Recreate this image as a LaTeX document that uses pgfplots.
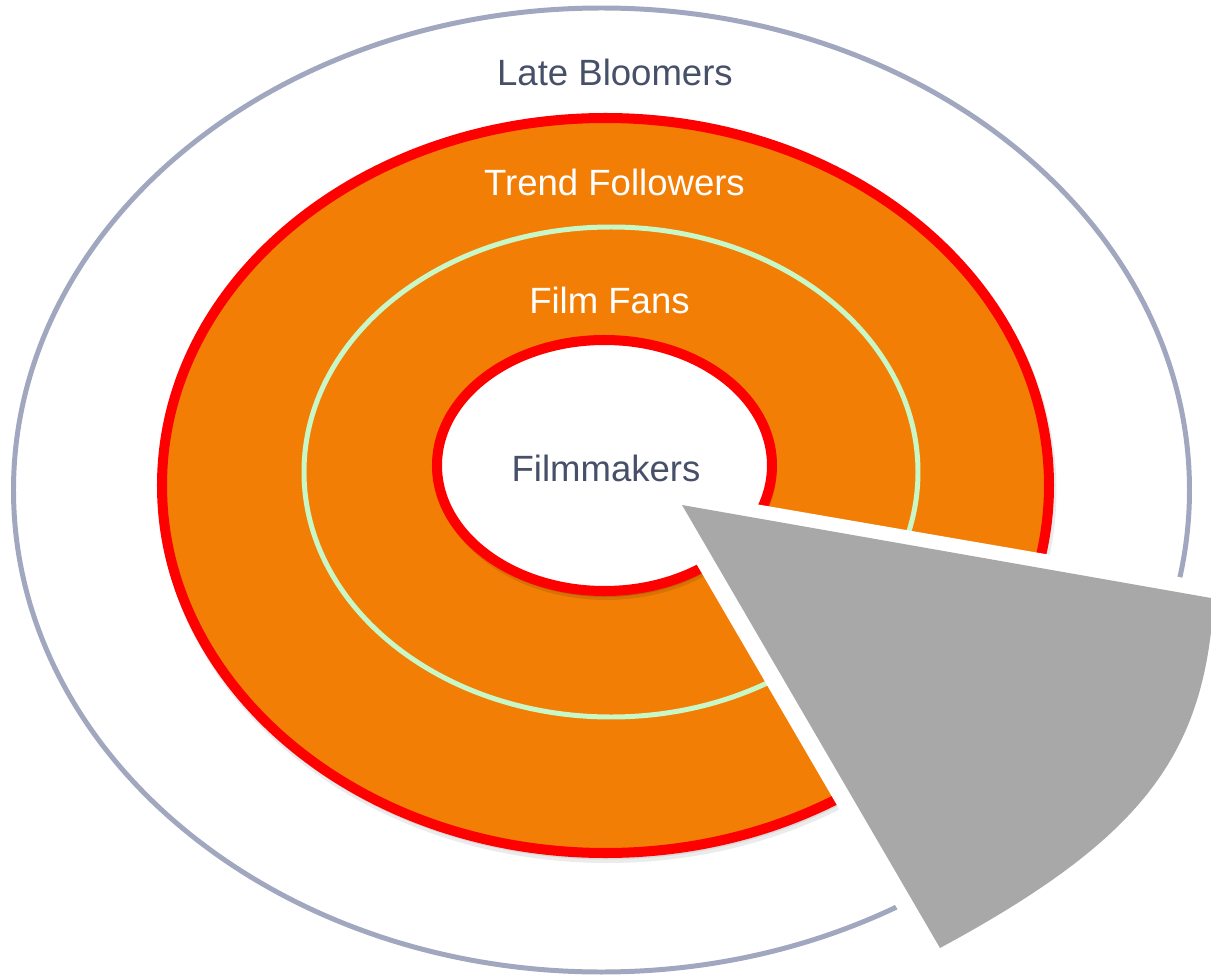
\documentclass[border=0pt]{standalone}
\usepackage{fontspec}
\setmainfont{Liberation Sans}
\usepackage{xcolor}
\usepackage{pgfplots}
\pgfplotsset{compat=1.18}

\definecolor{ringorange}{HTML}{F37E05}
\definecolor{ringred}{HTML}{FF0000}
\definecolor{mint}{HTML}{C8F8C8}
\definecolor{outergray}{HTML}{A0A7BF}
\definecolor{wedgegray}{HTML}{A8A8A8}
\definecolor{labelslate}{HTML}{475069}

% one axis unit = one pixel of the 1211x978 picture, y counted downwards
\tikzset{lbl/.style={font=\fontsize{10.4}{12}\selectfont, anchor=base}}

\begin{document}
\begin{tikzpicture}
	\begin{axis}[
			width = 12.11cm,
			height = 9.78cm,
			scale only axis,
			xmin = 0, xmax = 1211,
			ymin = 0, ymax = 978,
			y dir = reverse,
			hide axis,
		]
		\path (axis cs:0,0) (axis cs:1211,978);

		% Late Bloomers
		\draw[outergray, line width = 1.42pt] (axis cs:601.5,490) ellipse [x radius = 588, y radius = 482];

		% Trend Followers (orange ring), soft shadow first
		\fill[black, opacity = 0.08] (axis cs:607.5,490) ellipse [x radius = 449, y radius = 373];
		\fill[black, opacity = 0.08] (axis cs:606.5,488.5) ellipse [x radius = 447, y radius = 371];
		\draw[ringred, fill = ringorange, line width = 2.85pt] (axis cs:605.5,485.5) ellipse [x radius = 443.5, y radius = 367.5];

		% Film Fans
		\draw[mint, line width = 1.42pt] (axis cs:611,472) ellipse [x radius = 307, y radius = 245];

		% Filmmakers, with its shadow on the orange
		\fill[black, opacity = 0.10] (axis cs:606,470) ellipse [x radius = 170.5, y radius = 130];
		\fill[black, opacity = 0.12] (axis cs:605.5,468.5) ellipse [x radius = 169.5, y radius = 128.5];
		\draw[ringred, fill = white, line width = 2.85pt] (axis cs:604.5,465.5) ellipse [x radius = 167.5, y radius = 125.5];

		% sector cut out of all rings
		\addplot[fill = white, draw = none] coordinates {
			(651,486) (1211,582.6) (1211,978) (937.7,978) (651,486)
		};

		% exploded wedge
		\fill[wedgegray] (axis cs:682,505) -- (axis cs:1211,598) -- (axis cs:1211,632)
			.. controls (axis cs:1195,768) and (axis cs:1127,847) .. (axis cs:940,948) -- cycle;

		\node[lbl, text = labelslate] at (axis cs:615,86) {Late Bloomers};
		\node[lbl, text = white] at (axis cs:614.5,196) {Trend Followers};
		\node[lbl, text = white] at (axis cs:609.5,313) {Film Fans};
		\node[lbl, text = labelslate] at (axis cs:606,481) {Filmmakers};
	\end{axis}
\end{tikzpicture}
\end{document}
